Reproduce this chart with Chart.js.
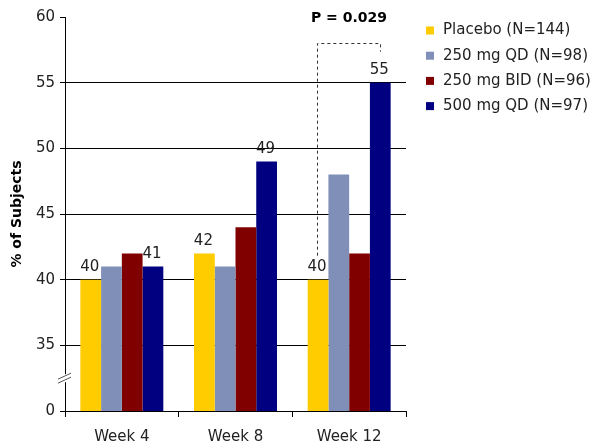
<!DOCTYPE html>
<html>
<head>
<meta charset="utf-8">
<script src="https://cdn.jsdelivr.net/npm/chart.js@4.4.1/dist/chart.umd.min.js"></script>
<style>
  html, body { margin: 0; padding: 0; background: #fff; }
  #wrap { width: 605px; height: 447px; }
</style>
</head>
<body>
<div id="wrap"><canvas id="grafico" width="605" height="447"></canvas></div>
<script>
// datos del grafico
const semanas = ['Week 4', 'Week 8', 'Week 12'];
const placebo = [40, 42, 40];
const qd250 = [41, 41, 48];
const bid250 = [42, 44, 42];
const qd500 = [41, 49, 55];
const nombres = ['Placebo (N=144)', '250 mg QD (N=98)', '250 mg BID (N=96)', '500 mg QD (N=97)'];
const colores = ['#FFCC00', '#7F8FB7', '#800000', '#000080'];
const ticksY = [30, 35, 40, 45, 50, 55, 60];
const etiquetaCero = '0';  // el eje esta cortado: 30 se muestra como 0
const pValor = 'P = 0.029';
const pNivel = 58;

const fuente = 'Tahoma, "DejaVu Sans", Verdana, sans-serif';

// etiquetas sobre las barras de placebo y 500 mg
const pluginEtiquetas = {
    id: 'etiquetas',
    afterDatasetsDraw(chart) {
        const ctx = chart.ctx;
        ctx.save();
        ctx.font = '15px ' + fuente;
        ctx.fillStyle = '#222';
        ctx.textAlign = 'center';
        ctx.textBaseline = 'bottom';
        [0, 3].forEach(function(i) {
            const meta = chart.getDatasetMeta(i);
            meta.data.forEach(function(bar, j) {
                ctx.fillText(String(chart.data.datasets[i].data[j]), bar.x - 1, bar.y - 5);
            });
        });
        ctx.restore();
    }
};

// corchete punteado y valor P en la semana 12
const pluginCorchete = {
    id: 'corchete',
    afterDatasetsDraw(chart) {
        const ctx = chart.ctx;
        const y = chart.scales.y;
        const b1 = chart.getDatasetMeta(0).data[2];
        const b2 = chart.getDatasetMeta(3).data[2];
        const yTop = Math.round(y.getPixelForValue(pNivel)) + 0.5;
        const x1 = Math.round(b1.x - 1) + 0.5;
        const x2 = Math.round(b2.x) + 0.5;
        ctx.save();
        ctx.strokeStyle = '#333';
        ctx.lineWidth = 1;
        ctx.setLineDash([3, 3]);
        ctx.beginPath();
        ctx.moveTo(x1, b1.y - 24);
        ctx.lineTo(x1, yTop);
        ctx.lineTo(x2, yTop);
        ctx.lineTo(x2, b2.y - 31);
        ctx.stroke();
        ctx.setLineDash([]);
        ctx.font = 'bold 14px ' + fuente;
        ctx.fillStyle = '#000';
        ctx.textAlign = 'center';
        ctx.textBaseline = 'middle';
        ctx.fillText(pValor, (x1 + x2) / 2, yTop - 25);
        ctx.restore();
    }
};

// corte del eje y
const pluginCorte = {
    id: 'corte',
    afterDraw(chart) {
        const ctx = chart.ctx;
        const y = chart.scales.y;
        const x0 = chart.chartArea.left;
        const yc = (y.getPixelForValue(30) + y.getPixelForValue(35)) / 2;
        ctx.save();
        ctx.fillStyle = '#fff';
        ctx.fillRect(x0 - 2, yc - 4, 4, 8);
        ctx.strokeStyle = '#555';
        ctx.lineWidth = 1;
        ctx.beginPath();
        ctx.moveTo(x0 - 7, yc + 1); ctx.lineTo(x0 + 6, yc - 5);
        ctx.moveTo(x0 - 7, yc + 5); ctx.lineTo(x0 + 6, yc - 1);
        ctx.stroke();
        ctx.restore();
    }
};

// leyenda a la derecha
const pluginLeyenda = {
    id: 'leyenda',
    afterDraw(chart) {
        const ctx = chart.ctx;
        const x = chart.chartArea.right + 20;
        ctx.save();
        ctx.font = '15px ' + fuente;
        ctx.textBaseline = 'middle';
        ctx.textAlign = 'left';
        chart.data.datasets.forEach(function(ds, i) {
            const yc = 30.5 + i * 25.2;
            ctx.fillStyle = ds.backgroundColor;
            ctx.fillRect(x, yc - 4, 8, 8);
            ctx.fillStyle = '#222';
            ctx.fillText(ds.label, x + 17, yc);
        });
        ctx.restore();
    }
};

const series = [placebo, qd250, bid250, qd500];

new Chart(document.getElementById('grafico'), {
    type: 'bar',
    data: {
        labels: semanas,
        datasets: series.map(function(s, i) {
            return {
                label: nombres[i],
                data: s,
                backgroundColor: colores[i],
                borderWidth: 0,
                barPercentage: 1,
                categoryPercentage: 0.73
            };
        })
    },
    options: {
        responsive: false,
        animation: false,
        layout: { padding: { top: 17, right: 199, left: 0, bottom: 0 } },
        plugins: {
            legend: { display: false },
            tooltip: { enabled: false }
        },
        scales: {
            x: {
                afterFit: function(scale) { scale.height = 36; },
                border: { display: true, color: '#000', width: 1 },
                grid: {
                    drawOnChartArea: false,
                    drawTicks: true,
                    tickLength: 6,
                    tickColor: '#000',
                    offset: true
                },
                ticks: {
                    color: '#222',
                    font: { family: fuente, size: 15 },
                    padding: 11
                }
            },
            y: {
                min: 30,
                max: 60,
                afterFit: function(scale) { scale.width = 65; },
                afterBuildTicks: function(scale) {
                    scale.ticks = ticksY.map(function(v) { return { value: v }; });
                },
                border: { display: true, color: '#000', width: 1 },
                grid: {
                    color: function(c) {
                        return (c.tick && (c.tick.value === 30 || c.tick.value === 60)) ? 'rgba(0,0,0,0)' : '#000';
                    },
                    tickColor: '#000',
                    tickLength: 5,
                    lineWidth: 1
                },
                ticks: {
                    color: '#222',
                    font: { family: fuente, size: 15 },
                    padding: 5,
                    callback: function(v) { return v === 30 ? etiquetaCero : String(v); }
                },
                title: {
                    display: true,
                    text: '% of Subjects',
                    color: '#000',
                    font: { family: fuente, size: 14, weight: 'bold' },
                    padding: { top: 9, bottom: 0 }
                }
            }
        }
    },
    plugins: [pluginEtiquetas, pluginCorchete, pluginCorte, pluginLeyenda]
});
</script>
</body>
</html>
